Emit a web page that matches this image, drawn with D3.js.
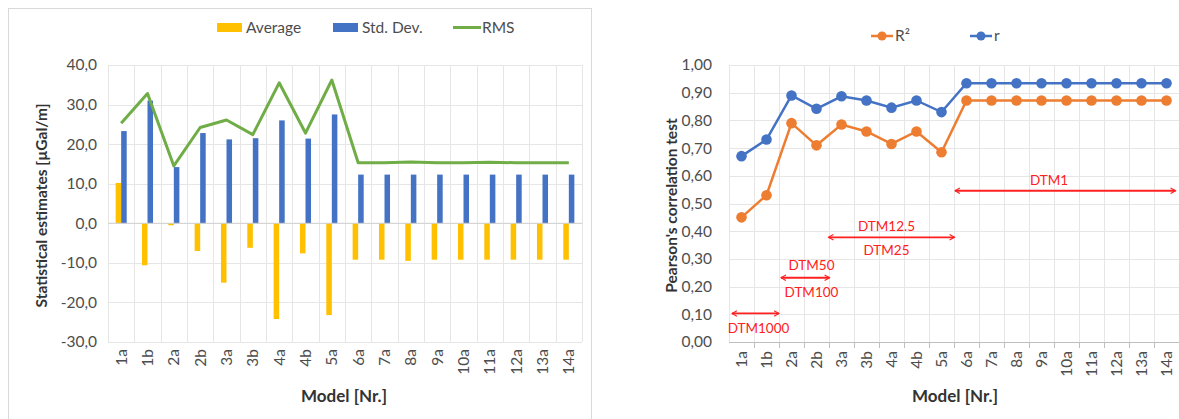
<!DOCTYPE html>
<html>
<head>
<meta charset="utf-8">
<script src="https://cdn.jsdelivr.net/npm/d3@7"></script>
<style>
  body { margin: 0; background: #fff; }
  svg { display: block; font-family: Lato, "Open Sans", sans-serif; }
</style>
</head>
<body>
<svg id="chart" width="1179" height="419"></svg>
<script>
// models on the category axis (shared by both panels)
const models = ["1a","1b","2a","2b","3a","3b","4a","4b","5a","6a","7a","8a","9a","10a","11a","12a","13a","14a"];

// left panel: statistical estimates [µGal/m]
const average = [10.2,-10.6,-0.5,-7.0,-15.0,-6.2,-24.2,-7.6,-23.2,-9.2,-9.2,-9.5,-9.2,-9.2,-9.2,-9.2,-9.2,-9.2];
const stdDev  = [23.3,31.0,14.2,22.8,21.2,21.5,26.0,21.4,27.5,12.3,12.3,12.3,12.3,12.3,12.3,12.3,12.3,12.3];
const rms     = [25.3,32.8,14.5,24.2,26.1,22.4,35.5,22.8,36.2,15.3,15.3,15.5,15.3,15.3,15.4,15.3,15.3,15.3];
const leftTicks = [-30,-20,-10,0,10,20,30,40];

// right panel: Pearson's correlation
const r2    = [0.45,0.53,0.79,0.71,0.785,0.76,0.715,0.76,0.685,0.872,0.872,0.872,0.872,0.872,0.872,0.872,0.872,0.872];
const rCoef = [0.671,0.731,0.89,0.842,0.887,0.872,0.846,0.872,0.83,0.934,0.934,0.934,0.934,0.934,0.934,0.934,0.934,0.934];
const rightTicks = d3.range(0, 1.0001, 0.1);

// DTM resolution spans: [from, to] in category units, value height, labels above / below
const dtmSpans = [
  {from: 0.12, to: 2.0,  y: 0.103, above: null,      below: "DTM1000", aboveY: null,  belowY: 0.049, tx: 1.18},
  {from: 2.08, to: 4.02, y: 0.232, above: "DTM50",   below: "DTM100",  aboveY: 0.277, belowY: 0.182, tx: 3.3},
  {from: 3.98, to: 9.02, y: 0.378, above: "DTM12.5", below: "DTM25",   aboveY: 0.42,  belowY: 0.332, tx: 6.3},
  {from: 9.04, to: 17.86,y: 0.546, above: "DTM1",    below: null,      aboveY: 0.585, belowY: null,  tx: 12.8}
];

const C = {yellow: "#FFC000", blue: "#4472C4", green: "#70AD47", orange: "#ED7D31", red: "#FF2020",
           grid: "#e6e6e6", axis: "#bfbfbf", text: "#4d4d4d", title: "#333333"};

const svg = d3.select("#chart");

// ---------------- left panel ----------------
svg.append("rect").attr("x", 8.5).attr("y", 8.5).attr("width", 583).attr("height", 430)
  .attr("fill", "#fff").attr("stroke", "#d9d9d9");

const L = {left: 108, right: 582, top: 65, bottom: 342};

const x0 = d3.scaleBand().domain(models).range([L.left, L.right]).paddingInner(0.58).paddingOuter(0.29);
const xc = d3.scaleBand().domain(models).range([L.left, L.right]);
const x1 = d3.scaleBand().domain(["avg","sd"]).range([0, x0.bandwidth()]);
const yL = d3.scaleLinear().domain([-30, 40]).range([L.bottom, L.top]);

const gL = svg.append("g");

// gridlines
gL.append("g").selectAll("line").data(leftTicks).join("line")
  .attr("x1", L.left).attr("x2", L.right)
  .attr("y1", d => Math.round(yL(d)) + 0.5).attr("y2", d => Math.round(yL(d)) + 0.5)
  .attr("stroke", C.grid);
gL.append("g").selectAll("line").data(d3.range(models.length + 1)).join("line")
  .attr("x1", i => Math.round(L.left + i * xc.step()) + 0.5).attr("x2", i => Math.round(L.left + i * xc.step()) + 0.5)
  .attr("y1", L.top).attr("y2", L.bottom)
  .attr("stroke", C.grid);

// y axis
gL.append("g").attr("transform", `translate(${L.left - 8},0)`)
  .call(d3.axisLeft(yL).tickValues(leftTicks).tickSize(0).tickFormat(d => d3.format(".1f")(d).replace(".", ",").replace("−", "-")))
  .call(g => g.select(".domain").remove())
  .call(g => g.selectAll("text").attr("fill", C.text).attr("font-size", 15.5).attr("font-family", "Lato"));

// bars
const groups = gL.append("g").selectAll("g").data(models).join("g")
  .attr("transform", d => `translate(${x0(d)},0)`);
groups.append("rect")
  .attr("x", x1("avg")).attr("width", x1.bandwidth())
  .attr("y", (d, i) => yL(Math.max(0, average[i])))
  .attr("height", (d, i) => Math.abs(yL(average[i]) - yL(0)))
  .attr("fill", C.yellow);
groups.append("rect")
  .attr("x", x1("sd")).attr("width", x1.bandwidth())
  .attr("y", (d, i) => yL(Math.max(0, stdDev[i])))
  .attr("height", (d, i) => Math.abs(yL(stdDev[i]) - yL(0)))
  .attr("fill", C.blue);

// zero line
gL.append("line").attr("x1", L.left).attr("x2", L.right)
  .attr("y1", yL(0)).attr("y2", yL(0)).attr("stroke", "#d0d0d0");

// RMS line
gL.append("path")
  .datum(rms)
  .attr("fill", "none").attr("stroke", C.green).attr("stroke-width", 3).attr("stroke-linejoin", "round")
  .attr("d", d3.line().x((d, i) => xc(models[i]) + xc.bandwidth() / 2).y(d => yL(d)));

// x labels
gL.append("g").selectAll("text").data(models).join("text")
  .attr("transform", d => `translate(${xc(d) + xc.bandwidth() / 2 + 5.5},${L.bottom + 7}) rotate(-90)`)
  .attr("text-anchor", "end").attr("font-size", 15.5).attr("fill", C.text).text(d => d);

// titles
gL.append("text").attr("transform", `translate(${47},${(L.top + L.bottom) / 2 + 2}) rotate(-90)`)
  .attr("text-anchor", "middle").attr("font-weight", "bold").attr("font-size", 15.5).attr("fill", C.title)
  .text("Statistical estimates [µGal/m]");
gL.append("text").attr("x", 344).attr("y", 402)
  .attr("text-anchor", "middle").attr("font-weight", "bold").attr("font-size", 17).attr("fill", C.title)
  .text("Model [Nr.]");

// legend
const legL = gL.append("g").attr("font-size", 15.5).attr("fill", C.text);
[
  {label: "Average", x: 217, kind: "rect", color: C.yellow},
  {label: "Std. Dev.", x: 333, kind: "rect", color: C.blue},
  {label: "RMS", x: 453, kind: "line", color: C.green}
].forEach(e => {
  if (e.kind === "rect") legL.append("rect").attr("x", e.x).attr("y", 23).attr("width", 25).attr("height", 9).attr("fill", e.color);
  else legL.append("line").attr("x1", e.x).attr("x2", e.x + 28).attr("y1", 27.5).attr("y2", 27.5).attr("stroke", e.color).attr("stroke-width", 3);
  legL.append("text").attr("x", e.x + 29).attr("y", 33).text(e.label);
});

// ---------------- right panel ----------------
const R = {left: 729, right: 1179, top: 65, bottom: 342};
const xr = d3.scaleBand().domain(models).range([R.left, R.right]);
const xu = d3.scaleLinear().domain([0, models.length]).range([R.left, R.right]);
const yR = d3.scaleLinear().domain([0, 1]).range([R.bottom, R.top]);

const gR = svg.append("g");

gR.append("g").selectAll("line").data(rightTicks.slice(1)).join("line")
  .attr("x1", R.left).attr("x2", R.right)
  .attr("y1", d => Math.round(yR(d)) + 0.5).attr("y2", d => Math.round(yR(d)) + 0.5)
  .attr("stroke", C.grid);
gR.append("g").selectAll("line").data(d3.range(models.length + 1)).join("line")
  .attr("x1", i => Math.round(xu(i)) + 0.5).attr("x2", i => Math.round(xu(i)) + 0.5)
  .attr("y1", R.top).attr("y2", R.bottom)
  .attr("stroke", C.grid);

// y axis
gR.append("g").attr("transform", `translate(${R.left - 14},0)`)
  .call(d3.axisLeft(yR).tickValues(rightTicks).tickSize(0).tickFormat(d => d3.format(".2f")(d).replace(".", ",")))
  .call(g => g.select(".domain").remove())
  .call(g => g.selectAll("text").attr("fill", C.text).attr("font-size", 15.5).attr("font-family", "Lato"));

// x axis line with tick marks between categories
gR.append("line").attr("x1", R.left).attr("x2", R.right).attr("y1", R.bottom + 0.5).attr("y2", R.bottom + 0.5)
  .attr("stroke", C.axis);
gR.append("g").selectAll("line").data(d3.range(1, models.length + 1)).join("line")
  .attr("x1", i => Math.round(xu(i)) + 0.5).attr("x2", i => Math.round(xu(i)) + 0.5)
  .attr("y1", R.bottom).attr("y2", R.bottom + 6).attr("stroke", C.axis);

gR.append("g").selectAll("text").data(models).join("text")
  .attr("transform", d => `translate(${xr(d) + xr.bandwidth() / 2 + 5.5},${R.bottom + 9}) rotate(-90)`)
  .attr("text-anchor", "end").attr("font-size", 15.5).attr("fill", C.text).text(d => d);

// series
const lineR = d3.line().x((d, i) => xr(models[i]) + xr.bandwidth() / 2).y(d => yR(d));
[{vals: r2, color: C.orange}, {vals: rCoef, color: C.blue}].forEach(s => {
  gR.append("path").datum(s.vals).attr("fill", "none").attr("stroke", s.color)
    .attr("stroke-width", 2.5).attr("d", lineR);
  gR.append("g").selectAll("circle").data(s.vals).join("circle")
    .attr("cx", (d, i) => xr(models[i]) + xr.bandwidth() / 2).attr("cy", d => yR(d))
    .attr("r", 5.3).attr("fill", s.color);
});

// DTM annotations
svg.append("defs").append("marker").attr("id", "arr").attr("viewBox", "0 0 10 10")
  .attr("refX", 8).attr("refY", 5).attr("markerWidth", 7).attr("markerHeight", 7)
  .attr("markerUnits", "userSpaceOnUse").attr("orient", "auto-start-reverse")
  .append("path").attr("d", "M1,1 L8,5 L1,9").attr("fill", "none").attr("stroke", C.red).attr("stroke-width", 1.6);

const gA = gR.append("g");
dtmSpans.forEach(a => {
  gA.append("line").attr("x1", xu(a.from)).attr("x2", xu(a.to)).attr("y1", yR(a.y)).attr("y2", yR(a.y))
    .attr("stroke", C.red).attr("stroke-width", 1.8)
    .attr("marker-start", "url(#arr)").attr("marker-end", "url(#arr)");
  if (a.above) gA.append("text").attr("x", xu(a.tx)).attr("y", yR(a.aboveY) + 5)
    .attr("text-anchor", "middle").attr("font-size", 13.5).attr("fill", C.red).text(a.above);
  if (a.below) gA.append("text").attr("x", xu(a.tx)).attr("y", yR(a.belowY) + 5)
    .attr("text-anchor", "middle").attr("font-size", 13.5).attr("fill", C.red).text(a.below);
});

// titles
gR.append("text").attr("transform", `translate(${677},${(R.top + R.bottom) / 2 + 2}) rotate(-90)`)
  .attr("text-anchor", "middle").attr("font-weight", "bold").attr("font-size", 15.5).attr("fill", C.title)
  .text("Pearson's correlation test");
gR.append("text").attr("x", 955).attr("y", 402)
  .attr("text-anchor", "middle").attr("font-weight", "bold").attr("font-size", 17).attr("fill", C.title)
  .text("Model [Nr.]");

// legend
const legR = gR.append("g").attr("font-size", 15.5).attr("fill", C.text);
[{label: "R²", x: 871, color: C.orange}, {label: "r", x: 970, color: C.blue}].forEach(e => {
  legR.append("line").attr("x1", e.x).attr("x2", e.x + 22).attr("y1", 36).attr("y2", 36)
    .attr("stroke", e.color).attr("stroke-width", 2.5);
  legR.append("circle").attr("cx", e.x + 11).attr("cy", 36).attr("r", 4.5).attr("fill", e.color);
  legR.append("text").attr("x", e.x + 24).attr("y", 41).text(e.label);
});
</script>
</body>
</html>
